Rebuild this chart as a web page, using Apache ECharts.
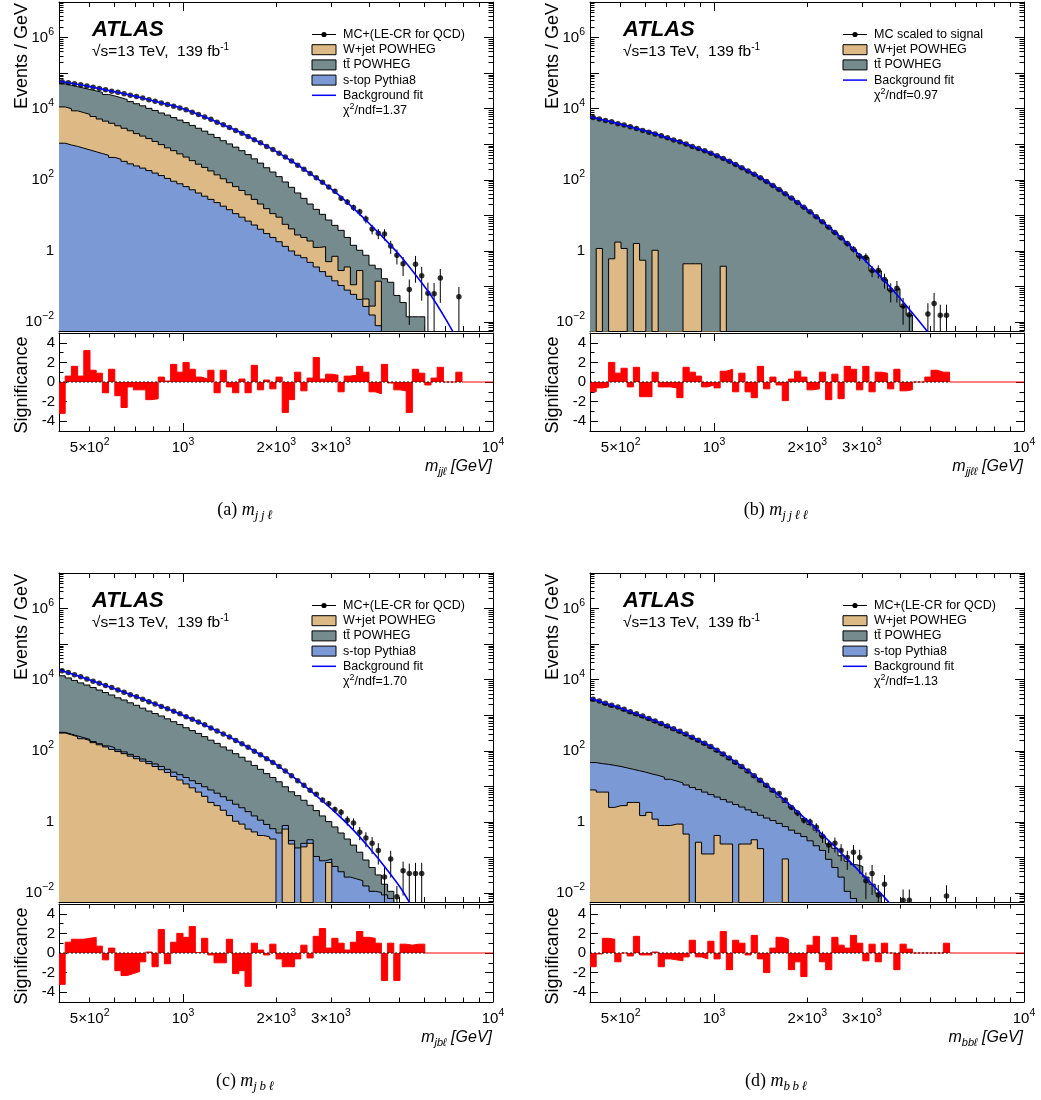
<!DOCTYPE html>
<html><head><meta charset="utf-8">
<script src="https://cdn.jsdelivr.net/npm/echarts@6/dist/echarts.min.js"></script>
<style>html,body{margin:0;padding:0;background:#fff}#c{width:1041px;height:1100px}</style>
</head><body><div id="c"></div>
<script>
// ---------------- DATA (histogram values are log10(Events / GeV)) ----------------
const binEdges = [398.1,416.9,436.5,457.1,478.6,501.2,524.8,549.5,575.4,602.6,631.0,660.7,691.8,724.4,758.6,794.3,831.8,871.0,912.0,955.0,
1000,1047,1096,1148,1202,1259,1318,1380,1445,1514,1585,1660,1738,1820,1905,1995,2089,2188,2291,2399,
2512,2630,2754,2884,3020,3162,3311,3467,3631,3802,3981,4169,4365,4571,4786,5012,5248,5495,5754,6026,
6310,6607,6918,7244,7586,7943];

// (a) m_jjl
const jjl_data = [4.76,4.73,4.70,4.67,4.64,4.60,4.57,4.53,4.49,4.46,4.42,4.38,4.34,4.30,4.25,4.21,4.16,4.12,4.07,4.02,
3.97,3.90,3.84,3.77,3.70,3.62,3.55,3.47,3.39,3.31,3.22,3.13,3.04,2.94,2.85,2.75,2.64,2.53,2.41,2.30,
2.18,2.06,1.93,1.80,1.68,1.48,1.38,1.22,1.10,0.90,0.62,0.50,0.48,0.14,-0.12,-0.36,-1.08,-0.37,-0.70,-1.19,
-1.20,-0.76,null,null,-1.29];
const jjl_err = [0.01,0.01,0.01,0.01,0.01,0.01,0.01,0.01,0.01,0.01,0.01,0.01,0.01,0.01,0.01,0.01,0.01,0.01,0.01,0.01,
0.01,0.01,0.01,0.01,0.01,0.01,0.01,0.01,0.01,0.01,0.02,0.02,0.03,0.03,0.04,0.04,0.05,0.05,0.06,0.07,
0.08,0.09,0.10,0.12,0.14,0.16,0.18,0.2,0.22,0.25,0.3,0.32,0.35,0.4,0.45,0.55,0.9,0.7,0.8,1.0,
1.0,0.8,0,0,0.9];
const jjl_ttbar = [4.70,4.66,4.62,4.58,4.54,4.50,4.46,4.40,4.36,4.31,4.26,4.20,4.14,4.08,4.01,3.95,3.88,3.82,3.75,3.68,
3.61,3.53,3.45,3.37,3.28,3.19,3.10,3.01,2.92,2.82,2.71,2.59,2.47,2.34,2.22,2.09,1.94,1.79,1.63,1.48,
1.32,1.17,1.03,0.87,0.72,0.58,0.38,0.16,0.02,-0.12,-0.40,-0.50,-0.78,-0.88,-1.25,-1.45,-1.85,-1.85,-1.85];
const jjl_wjet = [4.05,4.00,3.94,3.89,3.84,3.78,3.71,3.65,3.59,3.52,3.45,3.38,3.30,3.23,3.16,3.08,2.99,2.90,2.82,2.73,
2.64,2.54,2.44,2.35,2.25,2.14,2.03,1.92,1.81,1.70,1.58,1.45,1.32,1.19,1.05,0.95,0.75,0.62,0.45,0.38,
0.28,0.10,0.12,-0.30,-0.15,-0.55,-0.45,-0.95,-0.55,-1.35,-1.55,-0.85];
const jjl_stop = [3.03,2.98,2.94,2.89,2.84,2.79,2.74,2.69,2.63,2.58,2.52,2.45,2.39,2.33,2.26,2.19,2.12,2.04,1.96,1.89,
1.81,1.72,1.63,1.54,1.45,1.36,1.26,1.16,1.05,0.95,0.84,0.73,0.61,0.49,0.38,0.26,0.13,0.00,-0.12,-0.19,
-0.32,-0.45,-0.58,-0.71,-0.84,-0.97,-1.10,-1.22,-1.36,-1.56,-1.80,-2.10];
const jjl_sig = [-3.2,0.6,1.6,0.6,3.2,1.2,0.9,-1.1,1.3,-1.4,-2.6,-0.5,-0.8,-0.8,-1.8,-1.7,0.5,0.1,1.8,1.0,
2.0,1.3,0.5,0.3,1.2,-1.1,1.2,-0.5,-1.1,0.3,-1.1,1.7,-0.8,0.2,-0.7,0.5,-3.1,-1.8,1.0,-0.9,
0.4,2.5,0.3,0.8,0.7,-1.0,0.6,0.7,1.6,1.0,-1.0,-1.2,1.8,-0.1,-0.8,-0.9,-3.1,1.3,0.9,-0.3,
0.4,1.5,0,0,1.0];
const jjl_fitMass = [398.1,446.7,501.2,562.3,631.0,707.9,794.3,891.3,1000,1122,1259,1413,1585,1778,1995,2239,2512,2818,3162,3548,3981,4467,5012,5623,6310,7079,7586];
const jjl_fit = [4.78,4.70,4.62,4.53,4.44,4.34,4.23,4.12,4.00,3.84,3.66,3.47,3.27,3.04,2.80,2.53,2.24,1.93,1.59,1.20,0.78,0.34,-0.13,-0.67,-1.25,-1.95,-2.42];

// (b) m_jjll
const jjll_data = [3.75,3.71,3.67,3.63,3.58,3.54,3.49,3.44,3.39,3.34,3.29,3.24,3.18,3.12,3.07,3.01,2.94,2.88,2.82,2.75,
2.68,2.60,2.52,2.43,2.34,2.25,2.16,2.06,1.95,1.84,1.73,1.61,1.49,1.36,1.23,1.10,0.96,0.82,0.67,0.52,
0.37,0.21,0.05,-0.15,-0.18,-0.55,-0.55,-0.80,-1.10,-1.05,-1.55,-1.79,null,null,-1.77,-1.48,-1.81,-1.81];
const jjll_err = [0.01,0.01,0.01,0.01,0.01,0.01,0.01,0.01,0.01,0.01,0.01,0.01,0.01,0.01,0.01,0.01,0.01,0.01,0.01,0.01,
0.01,0.01,0.01,0.01,0.01,0.01,0.01,0.01,0.01,0.01,0.03,0.03,0.04,0.05,0.06,0.07,0.08,0.1,0.11,0.13,
0.15,0.18,0.2,0.25,0.3,0.35,0.4,0.45,0.55,0.6,0.7,0.8,0,0,1.0,1.0,1.0,1.0];
const jjll_ttbar = [3.74,3.70,3.66,3.62,3.57,3.53,3.48,3.43,3.38,3.33,3.28,3.23,3.17,3.11,3.06,3.00,2.93,2.87,2.81,2.74,
2.67,2.59,2.51,2.42,2.33,2.24,2.15,2.05,1.94,1.83,1.72,1.60,1.48,1.35,1.22,1.09,0.95,0.81,0.66,0.51,
0.36,0.20,0.04,-0.16,-0.19,-0.56,-0.56,-0.81,-1.11,-1.06,-1.56,-1.80];
const jjll_wjet = [null,0.07,null,-0.22,0.25,0.07,null,0.21,-0.26,null,0.02,null,null,null,null,-0.36,-0.36,-0.36,null,null,null,-0.43];
const jjll_sig = [-1.0,-0.6,-0.5,2.0,0.9,1.4,-0.5,1.5,-1.5,-1.5,1.0,-0.5,-0.5,-0.6,-1.6,1.5,1.0,0.6,-0.5,-0.3,
-0.6,1.1,1.3,-1.0,0.9,-1.0,-1.6,1.6,-0.7,0.5,-0.3,-1.9,0.3,1.1,0.5,-0.8,-0.7,1.0,-1.8,0.8,
-1.7,1.6,1.3,-0.8,1.6,-1.0,1.0,0.9,-0.7,1.3,-0.9,-0.8,0,0,0.5,1.2,1.0,1.0];
const jjll_fitMass = [398.1,446.7,501.2,562.3,631.0,707.9,794.3,891.3,1000,1122,1259,1413,1585,1778,1995,2239,2512,2818,3162,3548,3981,4467,4898];
const jjll_fit = [3.77,3.67,3.56,3.44,3.32,3.18,3.04,2.88,2.72,2.52,2.30,2.06,1.79,1.49,1.17,0.82,0.45,0.05,-0.38,-0.84,-1.33,-1.85,-2.28];

// (c) m_jbl
const jbl_data = [4.25,4.20,4.14,4.08,4.02,3.96,3.90,3.84,3.78,3.71,3.65,3.58,3.52,3.45,3.38,3.32,3.25,3.18,3.11,3.04,
2.96,2.89,2.81,2.73,2.64,2.56,2.47,2.39,2.29,2.20,2.10,1.99,1.89,1.78,1.67,1.56,1.43,1.30,1.16,1.03,
0.89,0.78,0.62,0.51,0.35,0.27,0.05,-0.03,-0.29,-0.45,-0.60,-0.80,-1.55,-1.04,-2.10,-1.37,-1.45,-1.45,-1.45];
const jbl_err = [0.01,0.01,0.01,0.01,0.01,0.01,0.01,0.01,0.01,0.01,0.01,0.01,0.01,0.01,0.01,0.01,0.01,0.01,0.01,0.01,
0.01,0.01,0.01,0.01,0.01,0.01,0.01,0.01,0.01,0.01,0.02,0.02,0.03,0.03,0.04,0.05,0.06,0.07,0.08,0.1,
0.12,0.13,0.15,0.18,0.2,0.25,0.3,0.35,0.4,0.45,0.5,0.6,0.9,0.7,1.0,0.8,0.9,1.0,1.0];
const jbl_ttbar = [4.11,4.05,3.98,3.91,3.85,3.78,3.71,3.64,3.57,3.49,3.43,3.35,3.28,3.20,3.12,3.05,2.98,2.90,2.82,2.74,
2.65,2.57,2.49,2.40,2.30,2.21,2.11,2.02,1.92,1.82,1.71,1.59,1.48,1.36,1.25,1.13,0.99,0.85,0.74,0.61,
0.47,0.32,0.17,0.01,-0.14,-0.31,-0.48,-0.65,-0.85,-1.07,-1.28,-1.49,-1.75,-1.95];
const jbl_stop = [2.52,2.47,2.42,2.37,2.32,2.26,2.20,2.14,2.09,2.03,1.97,1.90,1.84,1.77,1.70,1.63,1.56,1.48,1.40,1.33,
1.25,1.16,1.08,0.99,0.90,0.81,0.71,0.61,0.50,0.40,0.29,0.17,0.05,-0.07,-0.19,-0.31,-0.10,-0.52,-0.73,-0.60,
-0.50,-0.97,-1.09,-1.04,-1.25,-1.40,-1.55,-1.60,-1.65,-1.80,-1.95,-1.98,-2.05,-2.15];
const jbl_wjet = [2.50,2.45,2.40,2.34,2.29,2.23,2.17,2.11,2.04,1.98,1.92,1.85,1.78,1.71,1.64,1.56,1.47,1.39,1.28,1.18,
1.07,0.96,0.84,0.72,0.55,0.46,0.33,0.18,0.02,-0.06,-0.20,-0.28,-0.38,-0.42,-0.48,null,-0.20,-0.62,null,-0.70,
-0.60,null,null,-1.14];
const jbl_sig = [-3.2,1.1,1.4,1.4,1.5,1.6,0.7,-0.7,0.5,-1.8,-2.3,-2.1,-1.9,-0.9,0.1,-1.4,2.4,-1.1,1.1,2.0,
1.6,2.7,0.05,1.5,-0.2,-1.0,-1.0,1.4,-2.1,-1.8,-3.4,1.0,0.3,-0.2,0.9,-0.6,-1.4,-1.4,-0.6,0.8,
-0.5,1.7,2.5,0.5,1.5,1.0,0.3,1.1,2.2,1.6,1.5,1.0,-2.8,1.0,-2.8,0.9,0.8,0.9,0.9];
const jbl_fitMass = [398.1,446.7,501.2,562.3,631.0,707.9,794.3,891.3,1000,1122,1259,1413,1585,1778,1995,2239,2512,2818,3162,3548,3981,4467,5012,5495];
const jbl_fit = [4.28,4.14,3.99,3.84,3.68,3.52,3.35,3.18,3.00,2.81,2.60,2.39,2.15,1.89,1.62,1.30,0.96,0.59,0.20,-0.23,-0.72,-1.25,-1.83,-2.40];

// (d) m_bbl
const bbl_data = [3.45,3.40,3.34,3.28,3.23,3.17,3.10,3.04,2.98,2.91,2.84,2.77,2.70,2.62,2.55,2.47,2.38,2.30,2.21,2.12,
2.02,1.91,1.80,1.68,1.56,1.43,1.30,1.17,1.03,0.89,0.80,0.62,0.41,0.25,0.05,0.00,-0.15,-0.40,-0.65,-0.60,
-0.80,-1.00,-0.85,-1.00,-1.65,-1.45,-2.05,-1.75,null,null,-2.20,-2.20,null,null,null,null,null,-2.08];
const bbl_err = [0.01,0.01,0.01,0.01,0.01,0.01,0.01,0.01,0.01,0.01,0.01,0.01,0.01,0.01,0.01,0.01,0.01,0.01,0.01,0.01,
0.02,0.02,0.03,0.03,0.04,0.05,0.06,0.07,0.08,0.1,0.12,0.14,0.16,0.18,0.2,0.25,0.3,0.35,0.4,0.45,
0.5,0.55,0.6,0.65,0.7,0.75,0.9,0.8,0,0,1.0,1.0,0,0,0,0,0,1.0];
const bbl_ttbar = [3.41,3.36,3.30,3.24,3.19,3.13,3.06,3.00,2.94,2.87,2.80,2.73,2.66,2.58,2.51,2.43,2.34,2.26,2.17,2.08,
1.98,1.87,1.76,1.64,1.52,1.39,1.26,1.13,0.99,0.85,0.70,0.55,0.40,0.24,0.09,-0.07,-0.23,-0.40,-0.62,-0.74,
-0.95,-1.10,-1.20,-1.25,-1.55,-1.75,-2.00];
const bbl_stop = [1.67,1.64,1.62,1.59,1.56,1.52,1.48,1.44,1.40,1.35,1.31,1.26,1.20,1.15,1.10,1.04,0.97,0.91,0.84,0.77,
0.70,0.63,0.56,0.49,0.42,0.34,0.27,0.19,0.11,0.04,-0.04,-0.13,-0.23,-0.32,-0.41,-0.53,-0.67,-0.80,-1.05,-1.28,
-1.55,-1.95,-2.15];
const bbl_wjet = [0.90,0.84,0.84,0.41,0.46,0.46,0.55,0.55,0.18,0.27,0.08,-0.10,-0.10,-0.06,-0.06,-0.34,null,-0.57,-0.90,-0.90,
-0.38,-0.62,-0.62,null,-0.62,-0.62,-0.50,-0.75,null,null,null,-1.04];
const bbl_sig = [-1.4,-0.1,1.5,1.4,-0.9,0.0,-0.3,1.7,-0.2,-0.2,0.1,-1.4,-0.6,-0.7,-0.8,-0.4,1.3,-0.4,-0.6,1.2,
-0.6,2.2,-1.7,1.3,1.0,-0.2,1.8,-0.6,-2.0,0.5,1.6,1.4,-1.7,-0.9,-2.4,0.8,1.7,-0.9,-1.7,1.6,
0.8,0.5,1.8,1.0,-0.8,0.9,-0.9,1.0,0,-1.7,0.9,0.4,0,0,0,0,0,1.0];
const bbl_fitMass = [398.1,446.7,501.2,562.3,631.0,707.9,794.3,891.3,1000,1122,1259,1413,1585,1778,1995,2239,2512,2818,3162,3548,3715];
const bbl_fit = [3.48,3.34,3.20,3.04,2.88,2.70,2.51,2.30,2.08,1.80,1.50,1.17,0.82,0.44,0.05,-0.36,-0.78,-1.22,-1.66,-2.12,-2.32];

// axis tick labels
const xLabelVals = [500, 1000, 2000, 3000, 10000];
const yLabelVals = [0.01, 1, 100, 1e4, 1e6];
const sigLabelVals = [-4, -2, 0, 2, 4];

// ---------------- STYLE ----------------
const FONT = "'Liberation Sans', Arial, Helvetica, sans-serif";
const SERIF = "'Liberation Serif', 'Times New Roman', serif";
const C_TT = '#758b8e', C_WJ = '#ddb986', C_ST = '#7b9ad5', C_FIT = '#0000ff', C_SIG = '#ff0000';
const X_MIN = 398.107, X_MAX = 10000;
const Y_MIN = Math.pow(10, -2.25), Y_MAX = 1e7;
const LOW = 1e-9;

const xMajorTicks = [1000, 10000];
const xMinorTicks = [400,500,600,700,800,900,2000,3000,4000,5000,6000,7000,8000,9000];
const yMajorTicks = [0.01,0.1,1,10,100,1e3,1e4,1e5,1e6,1e7];
const yMinorTicks = [];
for (let e = -3; e <= 6; e++) for (let m = 2; m <= 9; m++) { const v = m * Math.pow(10, e); if (v > Y_MIN && v < Y_MAX) yMinorTicks.push(v); }

const P = v => (v === null || v === undefined) ? LOW : Math.pow(10, v);

const panels = [
  { ox: 0, oy: 0, data: jjl_data, err: jjl_err, sig: jjl_sig, fitM: jjl_fitMass, fit: jjl_fit,
    layers: [[jjl_ttbar, C_TT], [jjl_wjet, C_WJ], [jjl_stop, C_ST]],
    legend: [['data','MC+(LE-CR for QCD)'],['box','W+jet POWHEG',C_WJ],['box','tt\u0304 POWHEG',C_TT],['box','s-top Pythia8',C_ST],['line','Background fit'],['chi','1.37']],
    sub: 'jj\u2113', cap: 'a', capSub: 'j\u2009j\u2009\u2113' },
  { ox: 531, oy: 0, data: jjll_data, err: jjll_err, sig: jjll_sig, fitM: jjll_fitMass, fit: jjll_fit,
    layers: [[jjll_ttbar, C_TT], [jjll_wjet, C_WJ]],
    legend: [['data','MC scaled to signal'],['box','W+jet POWHEG',C_WJ],['box','tt\u0304 POWHEG',C_TT],['line','Background fit'],['chi','0.97']],
    sub: 'jj\u2113\u2113', cap: 'b', capSub: 'j\u2009j\u2009\u2113\u2009\u2113' },
  { ox: 0, oy: 571, data: jbl_data, err: jbl_err, sig: jbl_sig, fitM: jbl_fitMass, fit: jbl_fit,
    layers: [[jbl_ttbar, C_TT], [jbl_stop, C_ST], [jbl_wjet, C_WJ]],
    legend: [['data','MC+(LE-CR for QCD)'],['box','W+jet POWHEG',C_WJ],['box','tt\u0304 POWHEG',C_TT],['box','s-top Pythia8',C_ST],['line','Background fit'],['chi','1.70']],
    sub: 'jb\u2113', cap: 'c', capSub: 'j\u2009b\u2009\u2113' },
  { ox: 531, oy: 571, data: bbl_data, err: bbl_err, sig: bbl_sig, fitM: bbl_fitMass, fit: bbl_fit,
    layers: [[bbl_ttbar, C_TT], [bbl_stop, C_ST], [bbl_wjet, C_WJ]],
    legend: [['data','MC+(LE-CR for QCD)'],['box','W+jet POWHEG',C_WJ],['box','tt\u0304 POWHEG',C_TT],['box','s-top Pythia8',C_ST],['line','Background fit'],['chi','1.13']],
    sub: 'bb\u2113', cap: 'd', capSub: 'b\u2009b\u2009\u2113' }
];

// ---------------- BUILD ----------------
const grids = [], xAxes = [], yAxes = [], series = [], graphics = [];
const tickLine = { color: '#000', width: 1 };
const RICH_AX = {
  n: { fontSize: 15, fontFamily: FONT, color: '#000', lineHeight: 22 },
  s: { fontSize: 10.5, fontFamily: FONT, color: '#000', lineHeight: 13, verticalAlign: 'top' }
};
function supLabel(v) {
  const e = Math.floor(Math.log10(v) + 1e-9);
  const mant = Math.round(v / Math.pow(10, e));
  if (e === 0 && mant === 1) return '{n|1}';
  const es = e < 0 ? '\u2212' + (-e) : String(e);
  return '{n|' + (mant === 1 ? '' : mant + '\u00d7') + '10}{s|' + es + '}';
}
function addX(gi, pos, ticks, len, line, labels) {
  xAxes.push({
    type: 'log', logBase: 10, gridIndex: gi, position: pos, min: X_MIN, max: X_MAX, silent: true,
    axisLine: { show: line, onZero: false, lineStyle: { color: '#000', width: 1 } },
    axisTick: { show: true, inside: true, length: len, customValues: ticks, lineStyle: tickLine },
    axisLabel: labels ? { show: true, customValues: labels, formatter: supLabel, margin: 6, rich: RICH_AX, hideOverlap: false } : { show: false },
    splitLine: { show: false }, minorTick: { show: false }, minorSplitLine: { show: false }
  });
  return xAxes.length - 1;
}
function addYLog(gi, pos, ticks, len, line, labels) {
  yAxes.push({
    type: 'log', logBase: 10, gridIndex: gi, position: pos, min: Y_MIN, max: Y_MAX, silent: true,
    axisLine: { show: line, onZero: false, lineStyle: { color: '#000', width: 1 } },
    axisTick: { show: true, inside: true, length: len, customValues: ticks, lineStyle: tickLine },
    axisLabel: labels ? { show: true, customValues: labels, formatter: supLabel, margin: 5, rich: RICH_AX, hideOverlap: false } : { show: false },
    splitLine: { show: false }, minorTick: { show: false }
  });
  return yAxes.length - 1;
}
function addYVal(gi, pos, ticks, len, line, labels) {
  yAxes.push({
    type: 'value', gridIndex: gi, position: pos, min: -5, max: 5, silent: true,
    axisLine: { show: line, onZero: false, lineStyle: { color: '#000', width: 1 } },
    axisTick: { show: true, inside: true, length: len, customValues: ticks, lineStyle: tickLine },
    axisLabel: labels ? { show: true, customValues: labels, margin: 4, fontSize: 15, fontFamily: FONT, color: '#000', formatter: v => String(v) } : { show: false },
    splitLine: { show: false }, minorTick: { show: false }
  });
  return yAxes.length - 1;
}
function histPoints(vals) {
  const pts = [];
  for (let k = 0; k < vals.length; k++) pts.push([binEdges[k], P(vals[k])]);
  pts.push([binEdges[vals.length], LOW]);
  return pts;
}

panels.forEach((p) => {
  const gm = grids.length;
  grids.push({ left: p.ox + 59, top: p.oy + 2, width: 434, height: 329, outerBoundsMode: 'none', containLabel: false });
  const gs = grids.length;
  grids.push({ left: p.ox + 59, top: p.oy + 333, width: 434, height: 98, outerBoundsMode: 'none', containLabel: false });

  const xm = addX(gm, 'bottom', xMajorTicks, 9, true, null);
  addX(gm, 'bottom', xMinorTicks, 5, false, null);
  addX(gm, 'top', xMajorTicks, 9, true, null);
  addX(gm, 'top', xMinorTicks, 5, false, null);
  const ym = addYLog(gm, 'left', yMajorTicks, 9, true, yLabelVals);
  addYLog(gm, 'left', yMinorTicks, 4.5, false, null);
  addYLog(gm, 'right', yMajorTicks, 9, true, null);
  addYLog(gm, 'right', yMinorTicks, 4.5, false, null);

  const xs = addX(gs, 'bottom', xMajorTicks, 8, true, xLabelVals);
  addX(gs, 'bottom', xMinorTicks, 4.5, false, null);
  addX(gs, 'top', xMajorTicks, 8, true, null);
  addX(gs, 'top', xMinorTicks, 4.5, false, null);
  const ys = addYVal(gs, 'left', sigLabelVals, 8, true, sigLabelVals);
  addYVal(gs, 'left', [-3, -1, 1, 3], 4.5, false, null);
  addYVal(gs, 'right', sigLabelVals, 8, true, null);
  addYVal(gs, 'right', [-3, -1, 1, 3], 4.5, false, null);

  // stacked histogram layers (cumulative), back to front
  p.layers.forEach(([vals, color], li) => {
    series.push({ type: 'line', xAxisIndex: xm, yAxisIndex: ym, data: histPoints(vals), step: 'end', symbol: 'none',
      lineStyle: { color: '#000', width: 1 }, areaStyle: { color: color, opacity: 1, origin: 'start' },
      clip: true, silent: true, z: 2 + li * 0.1, animation: false });
  });
  // data points + error bars
  const pts = [], bars = [];
  p.data.forEach((v, k) => {
    if (v === null) return;
    const xc = Math.sqrt(binEdges[k] * binEdges[k + 1]);
    const y = P(v);
    pts.push([xc, y]);
    const f = p.err[k];
    if (f > 0.035) {
      const hi = y * (1 + f);
      let lo = f >= 1 ? Y_MIN : y * (1 - f);
      if (lo < Y_MIN) lo = Y_MIN;
      bars.push([xc, lo, hi]);
    }
  });
  series.push({ type: 'custom', xAxisIndex: xm, yAxisIndex: ym, data: bars, clip: true, silent: true, z: 4,
    encode: { x: 0, y: [1, 2] },
    renderItem: (params, api) => {
      const a = api.coord([api.value(0), api.value(2)]);
      const b = api.coord([api.value(0), api.value(1)]);
      return { type: 'line', shape: { x1: a[0], y1: a[1], x2: b[0], y2: b[1] }, style: { stroke: '#000', lineWidth: 1 } };
    }, animation: false });
  series.push({ type: 'scatter', xAxisIndex: xm, yAxisIndex: ym, data: pts, symbol: 'circle', symbolSize: 5.5,
    itemStyle: { color: '#000' }, clip: true, silent: true, z: 5, animation: false });
  // background fit
  series.push({ type: 'line', xAxisIndex: xm, yAxisIndex: ym, data: p.fitM.map((m, i) => [m, P(p.fit[i])]),
    smooth: 0.25, symbol: 'none', lineStyle: { color: C_FIT, width: 1.6 }, clip: true, silent: true, z: 6, animation: false });

  // significance
  const sp = [];
  p.sig.forEach((v, k) => sp.push([binEdges[k], v]));
  sp.push([binEdges[p.sig.length], 0]);
  sp.push([X_MAX, 0]);
  series.push({ type: 'line', xAxisIndex: xs, yAxisIndex: ys, data: sp, step: 'end', symbol: 'none',
    lineStyle: { color: C_SIG, width: 1 }, areaStyle: { color: C_SIG, opacity: 1 }, clip: true, silent: true, z: 3, animation: false });
  series.push({ type: 'line', xAxisIndex: xs, yAxisIndex: ys, data: [[X_MIN, 0], [binEdges[p.sig.length], 0]],
    symbol: 'none', lineStyle: { color: '#000', width: 1, type: [2, 2] }, clip: true, silent: true, z: 4, animation: false });

  // ---- texts ----
  const T = (x, y, text, rich, extra) => graphics.push(Object.assign({ type: 'text', x: x, y: y, silent: true,
    style: Object.assign({ text: text, rich: rich, fill: '#000', fontFamily: FONT }, extra || {}) }));
  // y titles
  graphics.push({ type: 'text', x: p.ox + 22, y: p.oy + 3, rotation: Math.PI / 2, silent: true,
    style: { text: 'Events / GeV', fontSize: 18, fontFamily: FONT, fill: '#000', align: 'right', verticalAlign: 'middle' } });
  graphics.push({ type: 'text', x: p.ox + 22, y: p.oy + 385, rotation: Math.PI / 2, silent: true,
    style: { text: 'Significance', fontSize: 18, fontFamily: FONT, fill: '#000', align: 'center', verticalAlign: 'middle' } });
  // ATLAS label
  T(p.ox + 92, p.oy + 30, 'ATLAS', null, { fontSize: 22, fontWeight: 'bold', fontStyle: 'italic', align: 'left', verticalAlign: 'middle' });
  T(p.ox + 92, p.oy + 52, '{n|\u221as=13 TeV,  139 fb}{s|-1}', {
    n: { fontSize: 15.5, fontFamily: FONT, lineHeight: 20 }, s: { fontSize: 10, fontFamily: FONT, lineHeight: 11, verticalAlign: 'top' } },
    { align: 'left', verticalAlign: 'middle' });
  // legend
  const lx0 = p.ox + 312, lx1 = p.ox + 336, ltx = p.ox + 343;
  p.legend.forEach((e, i) => {
    const y = p.oy + 34.5 + i * 15.2;
    if (e[0] === 'data') {
      graphics.push({ type: 'line', silent: true, shape: { x1: lx0, y1: y, x2: lx1, y2: y }, style: { stroke: '#000', lineWidth: 1 } });
      graphics.push({ type: 'circle', silent: true, shape: { cx: (lx0 + lx1) / 2, cy: y, r: 2.6 }, style: { fill: '#000' } });
    } else if (e[0] === 'box') {
      graphics.push({ type: 'rect', silent: true, shape: { x: lx0, y: y - 5, width: lx1 - lx0, height: 10 }, style: { fill: e[2], stroke: '#000', lineWidth: 1 } });
    } else if (e[0] === 'line') {
      graphics.push({ type: 'line', silent: true, shape: { x1: lx0, y1: y, x2: lx1, y2: y }, style: { stroke: C_FIT, lineWidth: 1.5 } });
    }
    if (e[0] === 'chi') {
      T(ltx, y, '{n|\u03c7}{s|2}{n|/ndf=' + e[1] + '}', {
        n: { fontSize: 12.5, fontFamily: FONT, lineHeight: 17 }, s: { fontSize: 9, fontFamily: FONT, lineHeight: 10, verticalAlign: 'top' } },
        { align: 'left', verticalAlign: 'middle' });
    } else {
      T(ltx, y, e[1], null, { fontSize: 12.5, align: 'left', verticalAlign: 'middle' });
    }
  });
  // x title
  T(p.ox + 492, p.oy + 467, '{i|m}{b|' + p.sub + '}{i| [GeV]}', {
    i: { fontSize: 16, fontFamily: FONT, fontStyle: 'italic', lineHeight: 20 },
    b: { fontSize: 11, fontFamily: FONT, fontStyle: 'italic', lineHeight: 14, verticalAlign: 'bottom' } },
    { align: 'right', verticalAlign: 'middle' });
  // caption
  T(p.ox + 245, p.oy + 510, '{n|(' + p.cap + ') }{i|m}{b|' + p.capSub + '}', {
    n: { fontSize: 18, fontFamily: SERIF, lineHeight: 24 },
    i: { fontSize: 18, fontFamily: SERIF, fontStyle: 'italic', lineHeight: 24 },
    b: { fontSize: 13, fontFamily: SERIF, fontStyle: 'italic', lineHeight: 17, verticalAlign: 'bottom' } },
    { align: 'center', verticalAlign: 'middle' });
});

const chart = echarts.init(document.getElementById('c'), null, { renderer: 'canvas' });
chart.setOption({
  animation: false,
  backgroundColor: '#fff',
  grid: grids, xAxis: xAxes, yAxis: yAxes, series: series, graphic: { elements: graphics }
});
</script></body></html>
